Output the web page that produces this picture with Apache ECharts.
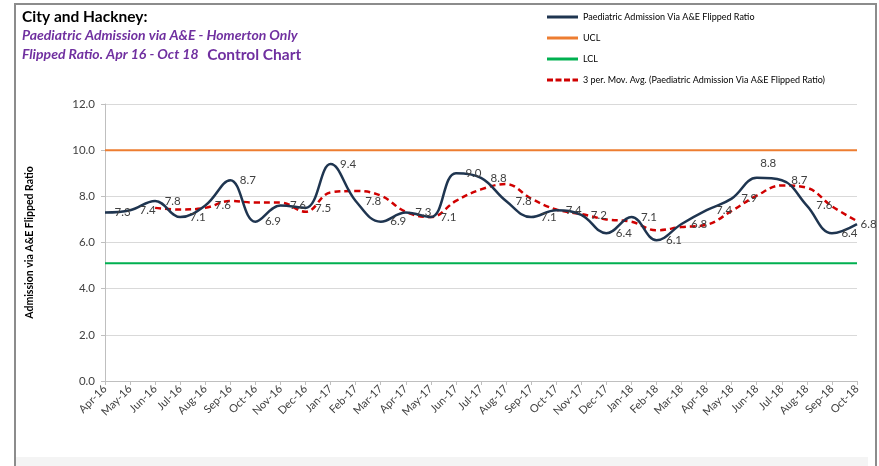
<!DOCTYPE html>
<html>
<head>
<meta charset="utf-8">
<script src="https://cdn.jsdelivr.net/npm/echarts@6/dist/echarts.min.js"></script>
<style>
  html, body { margin: 0; padding: 0; background: #fff; }
  #chart { width: 879px; height: 466px; }
</style>
</head>
<body>
<div id="chart"></div>
<script>
// months on the x axis
var months = ['Apr-16', 'May-16', 'Jun-16', 'Jul-16', 'Aug-16', 'Sep-16', 'Oct-16', 'Nov-16', 'Dec-16',
    'Jan-17', 'Feb-17', 'Mar-17', 'Apr-17', 'May-17', 'Jun-17', 'Jul-17', 'Aug-17', 'Sep-17', 'Oct-17',
    'Nov-17', 'Dec-17', 'Jan-18', 'Feb-18', 'Mar-18', 'Apr-18', 'May-18', 'Jun-18', 'Jul-18', 'Aug-18',
    'Sep-18', 'Oct-18'];
// paediatric admission via A&E flipped ratio
var ratio = [7.3, 7.4, 7.8, 7.1, 7.6, 8.7, 6.9, 7.6, 7.5, 9.4, 7.8, 6.9, 7.3, 7.1, 9.0, 8.8, 7.8, 7.1, 7.4,
    7.2, 6.4, 7.1, 6.1, 6.8, 7.4, 7.9, 8.8, 8.7, 7.6, 6.4, 6.8];
// 3 period moving average
var movAvg = ['-', '-', 7.5, 7.43, 7.5, 7.8, 7.73, 7.73, 7.33, 8.17, 8.23, 8.03, 7.33, 7.1, 7.8, 8.3, 8.53,
    7.9, 7.43, 7.23, 7.0, 6.9, 6.53, 6.67, 6.77, 7.37, 8.03, 8.47, 8.37, 7.57, 6.93];
var ucl = 10.0;
var lcl = 5.1;
var yTicks = [0, 2, 4, 6, 8, 10, 12];

var myChart = echarts.init(document.getElementById('chart'));
var fontName = 'Lato';

// flat line / dashed line icons for the legend
var solidIcon = 'path://M0,0H31V3H0Z';
var dashIcon = 'path://M0,0H6V3H0Z M8.5,0H14.5V3H8.5Z M17,0H23V3H17Z M25.5,0H31V3H25.5Z';

var option = {
    backgroundColor: '#fff',
    animation: false,
    textStyle: { fontFamily: fontName },
    title: {
        left: 22,
        top: 7,
        padding: 0,
        text: '{a|City and Hackney:}\n{b|Paediatric Admission via A&E - Homerton Only}\n{b|Flipped Ratio. Apr 16 - Oct 18}  {c|Control Chart}',
        textStyle: {
            rich: {
                a: { fontFamily: fontName, fontSize: 15.5, fontWeight: 'bold', color: '#000', lineHeight: 19 },
                b: { fontFamily: fontName, fontSize: 14, fontWeight: 'bold', fontStyle: 'italic', color: '#7030A0', lineHeight: 19 },
                c: { fontFamily: fontName, fontSize: 15.5, fontWeight: 'bold', color: '#7030A0', lineHeight: 19 }
            }
        }
    },
    legend: {
        orient: 'vertical',
        left: 547,
        top: 11,
        padding: 0,
        itemGap: 9,
        itemWidth: 31,
        itemHeight: 3,
        textStyle: { fontSize: 9, color: '#000', fontFamily: fontName, lineHeight: 12 },
        data: [
            { name: 'Paediatric Admission Via A&E Flipped Ratio', icon: solidIcon, itemStyle: { color: '#1F3550', opacity: 1 } },
            { name: 'UCL', icon: solidIcon },
            { name: 'LCL', icon: solidIcon },
            { name: '3 per. Mov. Avg. (Paediatric Admission Via A&E Flipped Ratio)', icon: dashIcon }
        ]
    },
    grid: {
        left: 105,
        right: 22,
        top: 104,
        bottom: 85
    },
    xAxis: {
        type: 'category',
        boundaryGap: false,
        data: months,
        axisLine: { lineStyle: { color: '#bfbfbf' } },
        axisTick: { alignWithLabel: true, length: 4, lineStyle: { color: '#bfbfbf' } },
        axisLabel: {
            interval: 0,
            rotate: 45,
            fontSize: 11,
            color: '#404040',
            margin: 6
        },
        splitLine: { show: false }
    },
    yAxis: {
        type: 'value',
        min: yTicks[0],
        max: yTicks[yTicks.length - 1],
        interval: 2,
        name: 'Admission via A&E Flipped Ratio',
        nameLocation: 'middle',
        nameRotate: 90,
        nameGap: 70,
        nameTextStyle: { fontSize: 10.5, fontWeight: 'bold', color: '#000' },
        axisLine: { show: true, lineStyle: { color: '#bfbfbf' } },
        axisTick: { show: true, length: 4, lineStyle: { color: '#bfbfbf' } },
        axisLabel: {
            fontSize: 11.5,
            color: '#404040',
            margin: 10,
            formatter: function(v) { return v.toFixed(1); }
        },
        splitLine: { show: true, lineStyle: { color: '#d9d9d9' } }
    },
    series: [{
        name: 'Paediatric Admission Via A&E Flipped Ratio',
        type: 'line',
        smooth: 0.4,
        symbol: 'circle',
        symbolSize: 1,
        showSymbol: true,
        z: 4,
        data: ratio,
        lineStyle: { color: '#1F3550', width: 2.5 },
        itemStyle: { color: 'rgba(0,0,0,0)', borderWidth: 0 },
        label: {
            show: true,
            position: 'right',
            distance: 9,
            fontSize: 11.5,
            color: '#404040',
            formatter: function(p) { return p.value.toFixed(1); }
        },
        // nudge a couple of labels the way the original sits them
        labelLayout: function(p) {
            if (p.dataIndex === ratio.length - 1) {
                return { dx: -6 };
            }
            if (p.dataIndex === 26) {
                return { dx: -6, dy: -15 };
            }
        }
    }, {
        name: 'UCL',
        type: 'line',
        symbol: 'none',
        data: months.map(function() { return ucl; }),
        lineStyle: { color: '#ED7D31', width: 2 },
        itemStyle: { color: '#ED7D31' }
    }, {
        name: 'LCL',
        type: 'line',
        symbol: 'none',
        data: months.map(function() { return lcl; }),
        lineStyle: { color: '#00B050', width: 2 },
        itemStyle: { color: '#00B050' }
    }, {
        name: '3 per. Mov. Avg. (Paediatric Admission Via A&E Flipped Ratio)',
        type: 'line',
        smooth: 0.4,
        symbol: 'none',
        z: 3,
        data: movAvg,
        lineStyle: { color: '#D00000', width: 2.5, type: [6, 4] },
        itemStyle: { color: '#D00000' }
    }],
    graphic: [{
        type: 'rect',
        shape: { x: 15, y: 4, width: 861, height: 470 },
        style: { fill: 'none', stroke: '#8c8c8c', lineWidth: 2 },
        silent: true
    }, {
        type: 'rect',
        shape: { x: 16, y: 457, width: 852, height: 9 },
        style: { fill: '#f4f4f4' },
        silent: true
    }]
};

myChart.setOption(option);
</script>
</body>
</html>
